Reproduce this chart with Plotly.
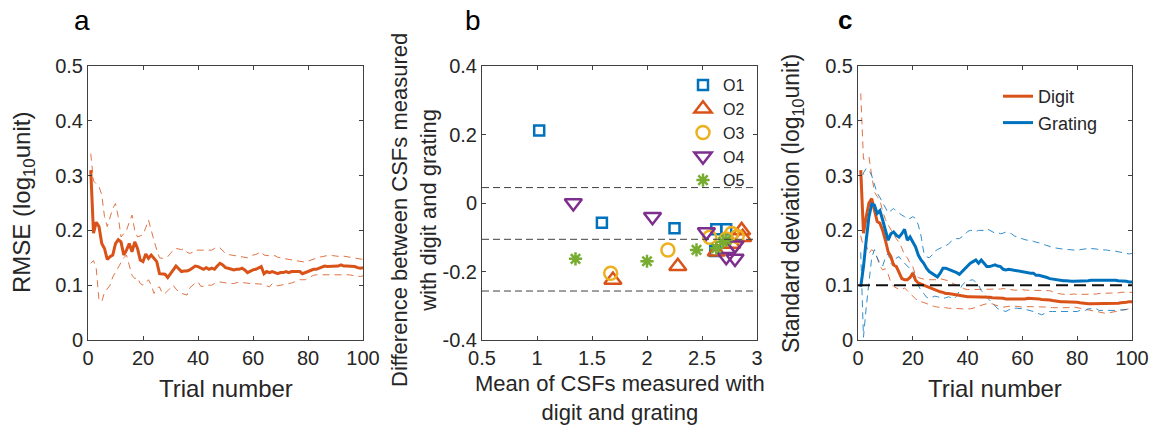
import plotly.graph_objects as go

# ---------------- data ----------------
trials = list(range(1, 101))

a_rmse = [0.31, 0.195, 0.215, 0.207, 0.176, 0.167, 0.147, 0.152, 0.155, 0.176,
          0.183, 0.179, 0.155, 0.164, 0.176, 0.161, 0.179, 0.167, 0.146, 0.143,
          0.157, 0.149, 0.155, 0.149, 0.143, 0.121, 0.121, 0.120, 0.114, 0.120,
          0.128, 0.135, 0.129, 0.125, 0.126, 0.126, 0.128, 0.131, 0.135, 0.134,
          0.131, 0.129, 0.132, 0.129, 0.131, 0.129, 0.135, 0.140, 0.137, 0.132,
          0.131, 0.129, 0.128, 0.129, 0.129, 0.131, 0.128, 0.123, 0.126, 0.128,
          0.129, 0.131, 0.134, 0.121, 0.125, 0.123, 0.125, 0.123, 0.121, 0.123,
          0.123, 0.125, 0.123, 0.125, 0.125, 0.126, 0.125, 0.121, 0.123, 0.126,
          0.128, 0.129, 0.129, 0.131, 0.134, 0.135, 0.134, 0.134, 0.134, 0.135,
          0.135, 0.137, 0.135, 0.135, 0.135, 0.135, 0.134, 0.132, 0.131, 0.132]

a_upper = [0.34, 0.29, 0.285, 0.28, 0.265, 0.225, 0.207, 0.222, 0.24, 0.249,
           0.225, 0.188, 0.195, 0.2, 0.215, 0.228, 0.2, 0.188, 0.19, 0.192,
           0.205, 0.219, 0.2, 0.18, 0.164, 0.15, 0.149, 0.151, 0.152, 0.158,
           0.164, 0.167, 0.166, 0.165, 0.167, 0.16, 0.158, 0.16, 0.164, 0.164,
           0.164, 0.163, 0.164, 0.163, 0.164, 0.167, 0.17, 0.168, 0.163, 0.158,
           0.156, 0.155, 0.155, 0.153, 0.152, 0.152, 0.151, 0.15, 0.152, 0.155,
           0.156, 0.159, 0.161, 0.155, 0.154, 0.153, 0.153, 0.154, 0.151, 0.15,
           0.15, 0.148, 0.147, 0.146, 0.145, 0.145, 0.144, 0.143, 0.142, 0.144,
           0.146, 0.147, 0.149, 0.151, 0.152, 0.153, 0.155, 0.155, 0.154, 0.153,
           0.152, 0.152, 0.153, 0.152, 0.152, 0.151, 0.15, 0.149, 0.148, 0.147]

a_lower = [0.14, 0.145, 0.13, 0.073, 0.07, 0.087, 0.093, 0.1, 0.115, 0.124,
           0.132, 0.143, 0.15, 0.155, 0.134, 0.118, 0.112, 0.114, 0.103, 0.1,
           0.104, 0.11, 0.1, 0.085, 0.094, 0.097, 0.085, 0.085, 0.09, 0.095,
           0.1, 0.093, 0.088, 0.085, 0.083, 0.082, 0.095, 0.1, 0.104, 0.106,
           0.098, 0.098, 0.1, 0.1, 0.1, 0.103, 0.105, 0.106, 0.105, 0.104,
           0.103, 0.103, 0.103, 0.104, 0.106, 0.105, 0.104, 0.103, 0.103, 0.103,
           0.103, 0.103, 0.102, 0.1, 0.098, 0.097, 0.103, 0.1, 0.099, 0.1,
           0.1, 0.101, 0.102, 0.104, 0.106, 0.108, 0.11, 0.11, 0.11, 0.113,
           0.116, 0.118, 0.119, 0.119, 0.119, 0.12, 0.12, 0.12, 0.12, 0.12,
           0.12, 0.119, 0.119, 0.119, 0.119, 0.118, 0.117, 0.116, 0.116, 0.117]

# panel b (Bland-Altman)
o1_mean = [1.02, 1.59, 2.25, 2.62, 2.63, 2.72]
o1_diff = [0.212, -0.058, -0.074, -0.14, -0.077, -0.077]
o2_mean = [1.69, 2.28, 2.63, 2.77, 2.86, 2.87]
o2_diff = [-0.225, -0.185, -0.142, -0.12, -0.08, -0.1]
o3_mean = [1.67, 2.19, 2.57, 2.72, 2.77, 2.82]
o3_diff = [-0.205, -0.137, -0.1, -0.105, -0.089, -0.098]
o4_mean = [1.33, 2.05, 2.54, 2.72, 2.8, 2.8]
o4_diff = [0.0, -0.04, -0.085, -0.157, -0.162, -0.123]
o5_mean = [1.35, 2.0, 2.45, 2.63, 2.69, 2.72]
o5_diff = [-0.163, -0.17, -0.137, -0.132, -0.113, -0.108]
ba_mean_diff = -0.106
ba_limit = 0.151

# panel c
c_digit = [0.31, 0.195, 0.225, 0.25, 0.258, 0.237, 0.216, 0.213, 0.2, 0.182,
           0.161, 0.152, 0.137, 0.134, 0.122, 0.112, 0.11, 0.11, 0.114, 0.122,
           0.109, 0.104, 0.102, 0.1, 0.098, 0.096, 0.094, 0.091, 0.09, 0.088,
           0.087, 0.085, 0.085, 0.084, 0.084, 0.083, 0.082, 0.08, 0.08, 0.079,
           0.079, 0.079, 0.079, 0.079, 0.079, 0.079, 0.078, 0.078, 0.077, 0.077,
           0.077, 0.076, 0.076, 0.075, 0.075, 0.074, 0.075, 0.075, 0.075, 0.075,
           0.075, 0.076, 0.076, 0.076, 0.076, 0.075, 0.074, 0.074, 0.073, 0.073,
           0.072, 0.071, 0.071, 0.07, 0.07, 0.07, 0.07, 0.069, 0.069, 0.069,
           0.068, 0.067, 0.067, 0.066, 0.066, 0.066, 0.066, 0.066, 0.067, 0.067,
           0.067, 0.067, 0.067, 0.067, 0.067, 0.068, 0.068, 0.069, 0.07, 0.07]

c_digit_upper = [0.45, 0.33, 0.33, 0.334, 0.3, 0.27, 0.262, 0.255, 0.235, 0.22,
                 0.21, 0.2, 0.193, 0.185, 0.178, 0.168, 0.155, 0.15, 0.14, 0.134,
                 0.118, 0.114, 0.112, 0.111, 0.11, 0.11, 0.109, 0.109, 0.11, 0.112,
                 0.111, 0.11, 0.108, 0.105, 0.102, 0.1, 0.098, 0.095, 0.093, 0.092,
                 0.092, 0.093, 0.093, 0.092, 0.092, 0.093, 0.093, 0.092, 0.092, 0.092,
                 0.092, 0.093, 0.094, 0.093, 0.092, 0.092, 0.091, 0.091, 0.092, 0.092,
                 0.091, 0.091, 0.091, 0.091, 0.091, 0.091, 0.091, 0.09, 0.09, 0.09,
                 0.088, 0.086, 0.085, 0.084, 0.083, 0.083, 0.083, 0.084, 0.084, 0.083,
                 0.083, 0.083, 0.083, 0.083, 0.083, 0.084, 0.084, 0.085, 0.085, 0.085,
                 0.085, 0.085, 0.086, 0.086, 0.086, 0.087, 0.087, 0.087, 0.087, 0.087]

c_digit_lower = [0.19, 0.17, 0.173, 0.158, 0.165, 0.16, 0.15, 0.135, 0.128, 0.13,
                 0.12, 0.105, 0.098, 0.095, 0.092, 0.092, 0.095, 0.09, 0.085, 0.08,
                 0.075, 0.072, 0.07, 0.068, 0.066, 0.064, 0.062, 0.061, 0.06, 0.06,
                 0.059, 0.059, 0.058, 0.058, 0.058, 0.057, 0.058, 0.057, 0.056, 0.056,
                 0.057, 0.058, 0.06, 0.062, 0.064, 0.065, 0.066, 0.066, 0.066, 0.064,
                 0.062, 0.061, 0.06, 0.061, 0.061, 0.062, 0.062, 0.061, 0.06, 0.06,
                 0.061, 0.061, 0.06, 0.06, 0.06, 0.06, 0.06, 0.06, 0.061, 0.06,
                 0.059, 0.059, 0.058, 0.058, 0.058, 0.058, 0.059, 0.061, 0.06, 0.058,
                 0.057, 0.056, 0.055, 0.055, 0.054, 0.053, 0.052, 0.051, 0.05, 0.049,
                 0.049, 0.05, 0.051, 0.052, 0.053, 0.054, 0.055, 0.056, 0.057, 0.058]

c_grating = [0.097, 0.134, 0.182, 0.225, 0.248, 0.246, 0.231, 0.236, 0.219, 0.2,
             0.182, 0.194, 0.197, 0.191, 0.188, 0.194, 0.202, 0.182, 0.188, 0.179,
             0.17, 0.155, 0.146, 0.14, 0.131, 0.125, 0.122, 0.118, 0.115, 0.122,
             0.131, 0.131, 0.129, 0.128, 0.126, 0.123, 0.12, 0.125, 0.129, 0.134,
             0.14, 0.143, 0.146, 0.14, 0.146, 0.14, 0.134, 0.134, 0.135, 0.137,
             0.135, 0.134, 0.129, 0.128, 0.129, 0.128, 0.127, 0.126, 0.126, 0.125,
             0.124, 0.123, 0.122, 0.122, 0.118, 0.118, 0.117, 0.115, 0.114, 0.112,
             0.111, 0.11, 0.11, 0.109, 0.108, 0.108, 0.107, 0.107, 0.107, 0.107,
             0.108, 0.108, 0.108, 0.108, 0.109, 0.109, 0.109, 0.11, 0.11, 0.11,
             0.109, 0.109, 0.11, 0.109, 0.108, 0.108, 0.107, 0.107, 0.106, 0.106]

c_grating_upper = [0.28, 0.305, 0.313, 0.31, 0.3, 0.285, 0.268, 0.26, 0.25, 0.24,
                   0.232, 0.236, 0.24, 0.235, 0.231, 0.228, 0.225, 0.22, 0.222, 0.225,
                   0.222, 0.21, 0.19, 0.16, 0.152, 0.15, 0.155, 0.162, 0.165, 0.168,
                   0.17, 0.172, 0.175, 0.18, 0.182, 0.185, 0.185, 0.188, 0.192, 0.198,
                   0.2, 0.2, 0.198, 0.2, 0.2, 0.2, 0.203, 0.2, 0.198, 0.195,
                   0.196, 0.194, 0.195, 0.197, 0.196, 0.194, 0.19, 0.188, 0.186, 0.184,
                   0.183, 0.182, 0.182, 0.18, 0.179, 0.178, 0.176, 0.174, 0.172, 0.17,
                   0.169, 0.168, 0.167, 0.167, 0.166, 0.165, 0.165, 0.164, 0.164, 0.164,
                   0.165, 0.165, 0.166, 0.167, 0.167, 0.167, 0.166, 0.165, 0.165, 0.164,
                   0.164, 0.163, 0.163, 0.162, 0.161, 0.16, 0.159, 0.158, 0.157, 0.158]

c_grating_lower = [0.16, 0.005, 0.06, 0.11, 0.15, 0.165, 0.15, 0.14, 0.135, 0.15,
                   0.158, 0.14, 0.135, 0.15, 0.152, 0.145, 0.14, 0.135, 0.13, 0.125,
                   0.115, 0.1, 0.09, 0.085, 0.078, 0.076, 0.078, 0.08, 0.079, 0.078,
                   0.076, 0.077, 0.079, 0.077, 0.075, 0.08, 0.09, 0.1, 0.105, 0.109,
                   0.109, 0.11, 0.105, 0.1, 0.09, 0.085, 0.078, 0.073, 0.067, 0.062,
                   0.057, 0.055, 0.054, 0.052, 0.055, 0.057, 0.058, 0.058, 0.058, 0.057,
                   0.056, 0.055, 0.053, 0.052, 0.05, 0.048, 0.046, 0.048, 0.05, 0.052,
                   0.052, 0.052, 0.052, 0.052, 0.052, 0.052, 0.052, 0.052, 0.052, 0.052,
                   0.054, 0.054, 0.054, 0.057, 0.057, 0.057, 0.057, 0.054, 0.054, 0.054,
                   0.054, 0.054, 0.053, 0.054, 0.054, 0.055, 0.055, 0.055, 0.056, 0.056]

c_reference_sd = 0.1

trial_ticks = [0, 20, 40, 60, 80, 100]
sd_ticks = [0, 0.1, 0.2, 0.3, 0.4, 0.5]
sd_ticktext = ["0", "0.1", "0.2", "0.3", "0.4", "0.5"]
b_xticks = [0.5, 1, 1.5, 2, 2.5, 3]
b_xticktext = ["0.5", "1", "1.5", "2", "2.5", "3"]
b_yticks = [-0.4, -0.2, 0, 0.2, 0.4]
b_yticktext = ["-0.4", "-0.2", "0", "0.2", "0.4"]

# ---------------- style ----------------
ORANGE = "#D95319"
BLUE = "#0072BD"
YELLOW = "#EDB120"
PURPLE = "#7E2F8E"
GREEN = "#77AC30"
TXT = "#262626"
FONT = "Liberation Sans, Arial, Helvetica, sans-serif"
W, H = 1153, 425

fig = go.Figure()

# panel a
fig.add_trace(go.Scatter(x=trials, y=a_upper, mode="lines", xaxis="x", yaxis="y",
                         line=dict(color=ORANGE, width=1, dash="7px,5px"), opacity=0.8,
                         showlegend=False))
fig.add_trace(go.Scatter(x=trials, y=a_lower, mode="lines", xaxis="x", yaxis="y",
                         line=dict(color=ORANGE, width=1, dash="7px,5px"), opacity=0.8,
                         showlegend=False))
fig.add_trace(go.Scatter(x=trials, y=a_rmse, mode="lines", xaxis="x", yaxis="y",
                         line=dict(color=ORANGE, width=3), showlegend=False))

# panel b
obs = [("O1", o1_mean, o1_diff, BLUE, "square-open", 10),
       ("O2", o2_mean, o2_diff, ORANGE, "triangle-up-open", 15),
       ("O3", o3_mean, o3_diff, YELLOW, "circle-open", 13),
       ("O4", o4_mean, o4_diff, PURPLE, "triangle-down-open", 15),
       ("O5", o5_mean, o5_diff, GREEN, "asterisk-open", 11)]
for name, mx, dy, col, sym, sz in obs:
    fig.add_trace(go.Scatter(x=mx, y=dy, mode="markers", name=name, xaxis="x2", yaxis="y2",
                             marker=dict(symbol=sym, size=sz, color=col,
                                         line=dict(color=col, width=2.5)),
                             legend="legend"))

for yv in [ba_mean_diff + ba_limit, ba_mean_diff, ba_mean_diff - ba_limit]:
    fig.add_shape(type="line", xref="x2 domain", yref="y2", x0=0, x1=1, y0=yv, y1=yv,
                  line=dict(color="#404040", width=1, dash="7px,4px"))

# panel c
fig.add_trace(go.Scatter(x=trials, y=c_digit_upper, mode="lines", xaxis="x3", yaxis="y3",
                         line=dict(color=ORANGE, width=1, dash="7px,5px"), opacity=0.8,
                         showlegend=False))
fig.add_trace(go.Scatter(x=trials, y=c_digit_lower, mode="lines", xaxis="x3", yaxis="y3",
                         line=dict(color=ORANGE, width=1, dash="7px,5px"), opacity=0.8,
                         showlegend=False))
fig.add_trace(go.Scatter(x=trials, y=c_grating_upper, mode="lines", xaxis="x3", yaxis="y3",
                         line=dict(color=BLUE, width=1, dash="7px,5px"), opacity=0.8,
                         showlegend=False))
fig.add_trace(go.Scatter(x=trials, y=c_grating_lower, mode="lines", xaxis="x3", yaxis="y3",
                         line=dict(color=BLUE, width=1, dash="7px,5px"), opacity=0.8,
                         showlegend=False))
fig.add_trace(go.Scatter(x=trials, y=c_digit, mode="lines", name="Digit", xaxis="x3", yaxis="y3",
                         line=dict(color=ORANGE, width=3), legend="legend2"))
fig.add_trace(go.Scatter(x=trials, y=c_grating, mode="lines", name="Grating", xaxis="x3", yaxis="y3",
                         line=dict(color=BLUE, width=3), legend="legend2"))
fig.add_shape(type="line", xref="x3 domain", yref="y3", x0=0, x1=1,
              y0=c_reference_sd, y1=c_reference_sd,
              line=dict(color="#111111", width=2, dash="12px,6px"))


def px_x(p):
    return p / W


def px_y(p):
    return 1 - p / H


axis_common = dict(showline=True, linecolor="#404040", linewidth=1, mirror="allticks",
                   ticks="inside", ticklen=4, tickcolor="#404040", showgrid=False,
                   zeroline=False, automargin=False,
                   tickfont=dict(family=FONT, size=20, color=TXT))

ydom = [px_y(340), px_y(66)]
fig.update_layout(
    width=W, height=H, margin=dict(l=0, r=0, t=0, b=0, autoexpand=False),
    paper_bgcolor="white", plot_bgcolor="white",
    font=dict(family=FONT, color=TXT),
    xaxis=dict(domain=[px_x(88), px_x(363)], range=[0, 100], tickvals=trial_ticks,
               anchor="y", **axis_common),
    yaxis=dict(domain=ydom, range=[0, 0.5], tickvals=sd_ticks, ticktext=sd_ticktext,
               anchor="x", **axis_common),
    xaxis2=dict(domain=[px_x(482), px_x(757)], range=[0.5, 3], tickvals=b_xticks,
                ticktext=b_xticktext, anchor="y2", **axis_common),
    yaxis2=dict(domain=ydom, range=[-0.4, 0.4], tickvals=b_yticks, ticktext=b_yticktext,
                anchor="x2", **axis_common),
    xaxis3=dict(domain=[px_x(858), px_x(1132)], range=[0, 100], tickvals=trial_ticks,
                anchor="y3", **axis_common),
    yaxis3=dict(domain=ydom, range=[0, 0.5], tickvals=sd_ticks, ticktext=sd_ticktext,
                anchor="x3", **axis_common),
    legend=dict(x=px_x(683), y=px_y(68), xanchor="left", yanchor="top",
                bgcolor="rgba(0,0,0,0)", font=dict(family=FONT, size=16, color=TXT),
                tracegroupgap=0, itemwidth=30),
    legend2=dict(x=px_x(998), y=px_y(78), xanchor="left", yanchor="top",
                 bgcolor="rgba(0,0,0,0)", font=dict(family=FONT, size=18, color=TXT),
                 tracegroupgap=0, itemwidth=30),
)

ann = []


def add_text(text, x, y, size, angle=0, bold=False):
    ann.append(dict(text=("<b>%s</b>" % text) if bold else text, x=px_x(x), y=px_y(y),
                    xref="paper", yref="paper", showarrow=False, textangle=angle,
                    xanchor="center", yanchor="middle",
                    font=dict(family=FONT, size=size, color="black" if size > 25 else TXT)))


add_text("a", 82, 20, 28)
add_text("b", 473, 20, 28)
add_text("c", 845, 20, 26, bold=True)
add_text("RMSE (log<sub>10</sub>unit)", 23, 203, 24, angle=-90)
add_text("Trial number", 225.5, 388, 24)
add_text("Difference between CSFs measured<br>with digit and grating", 414, 210, 22, angle=-90)
add_text("Mean of CSFs measured with<br>digit and grating", 620, 398, 22)
add_text("Standard deviation (log<sub>10</sub>unit)", 792, 204, 23, angle=-90)
add_text("Trial number", 995, 388, 24)
fig.update_layout(annotations=ann)

fig.write_html("out.html")
